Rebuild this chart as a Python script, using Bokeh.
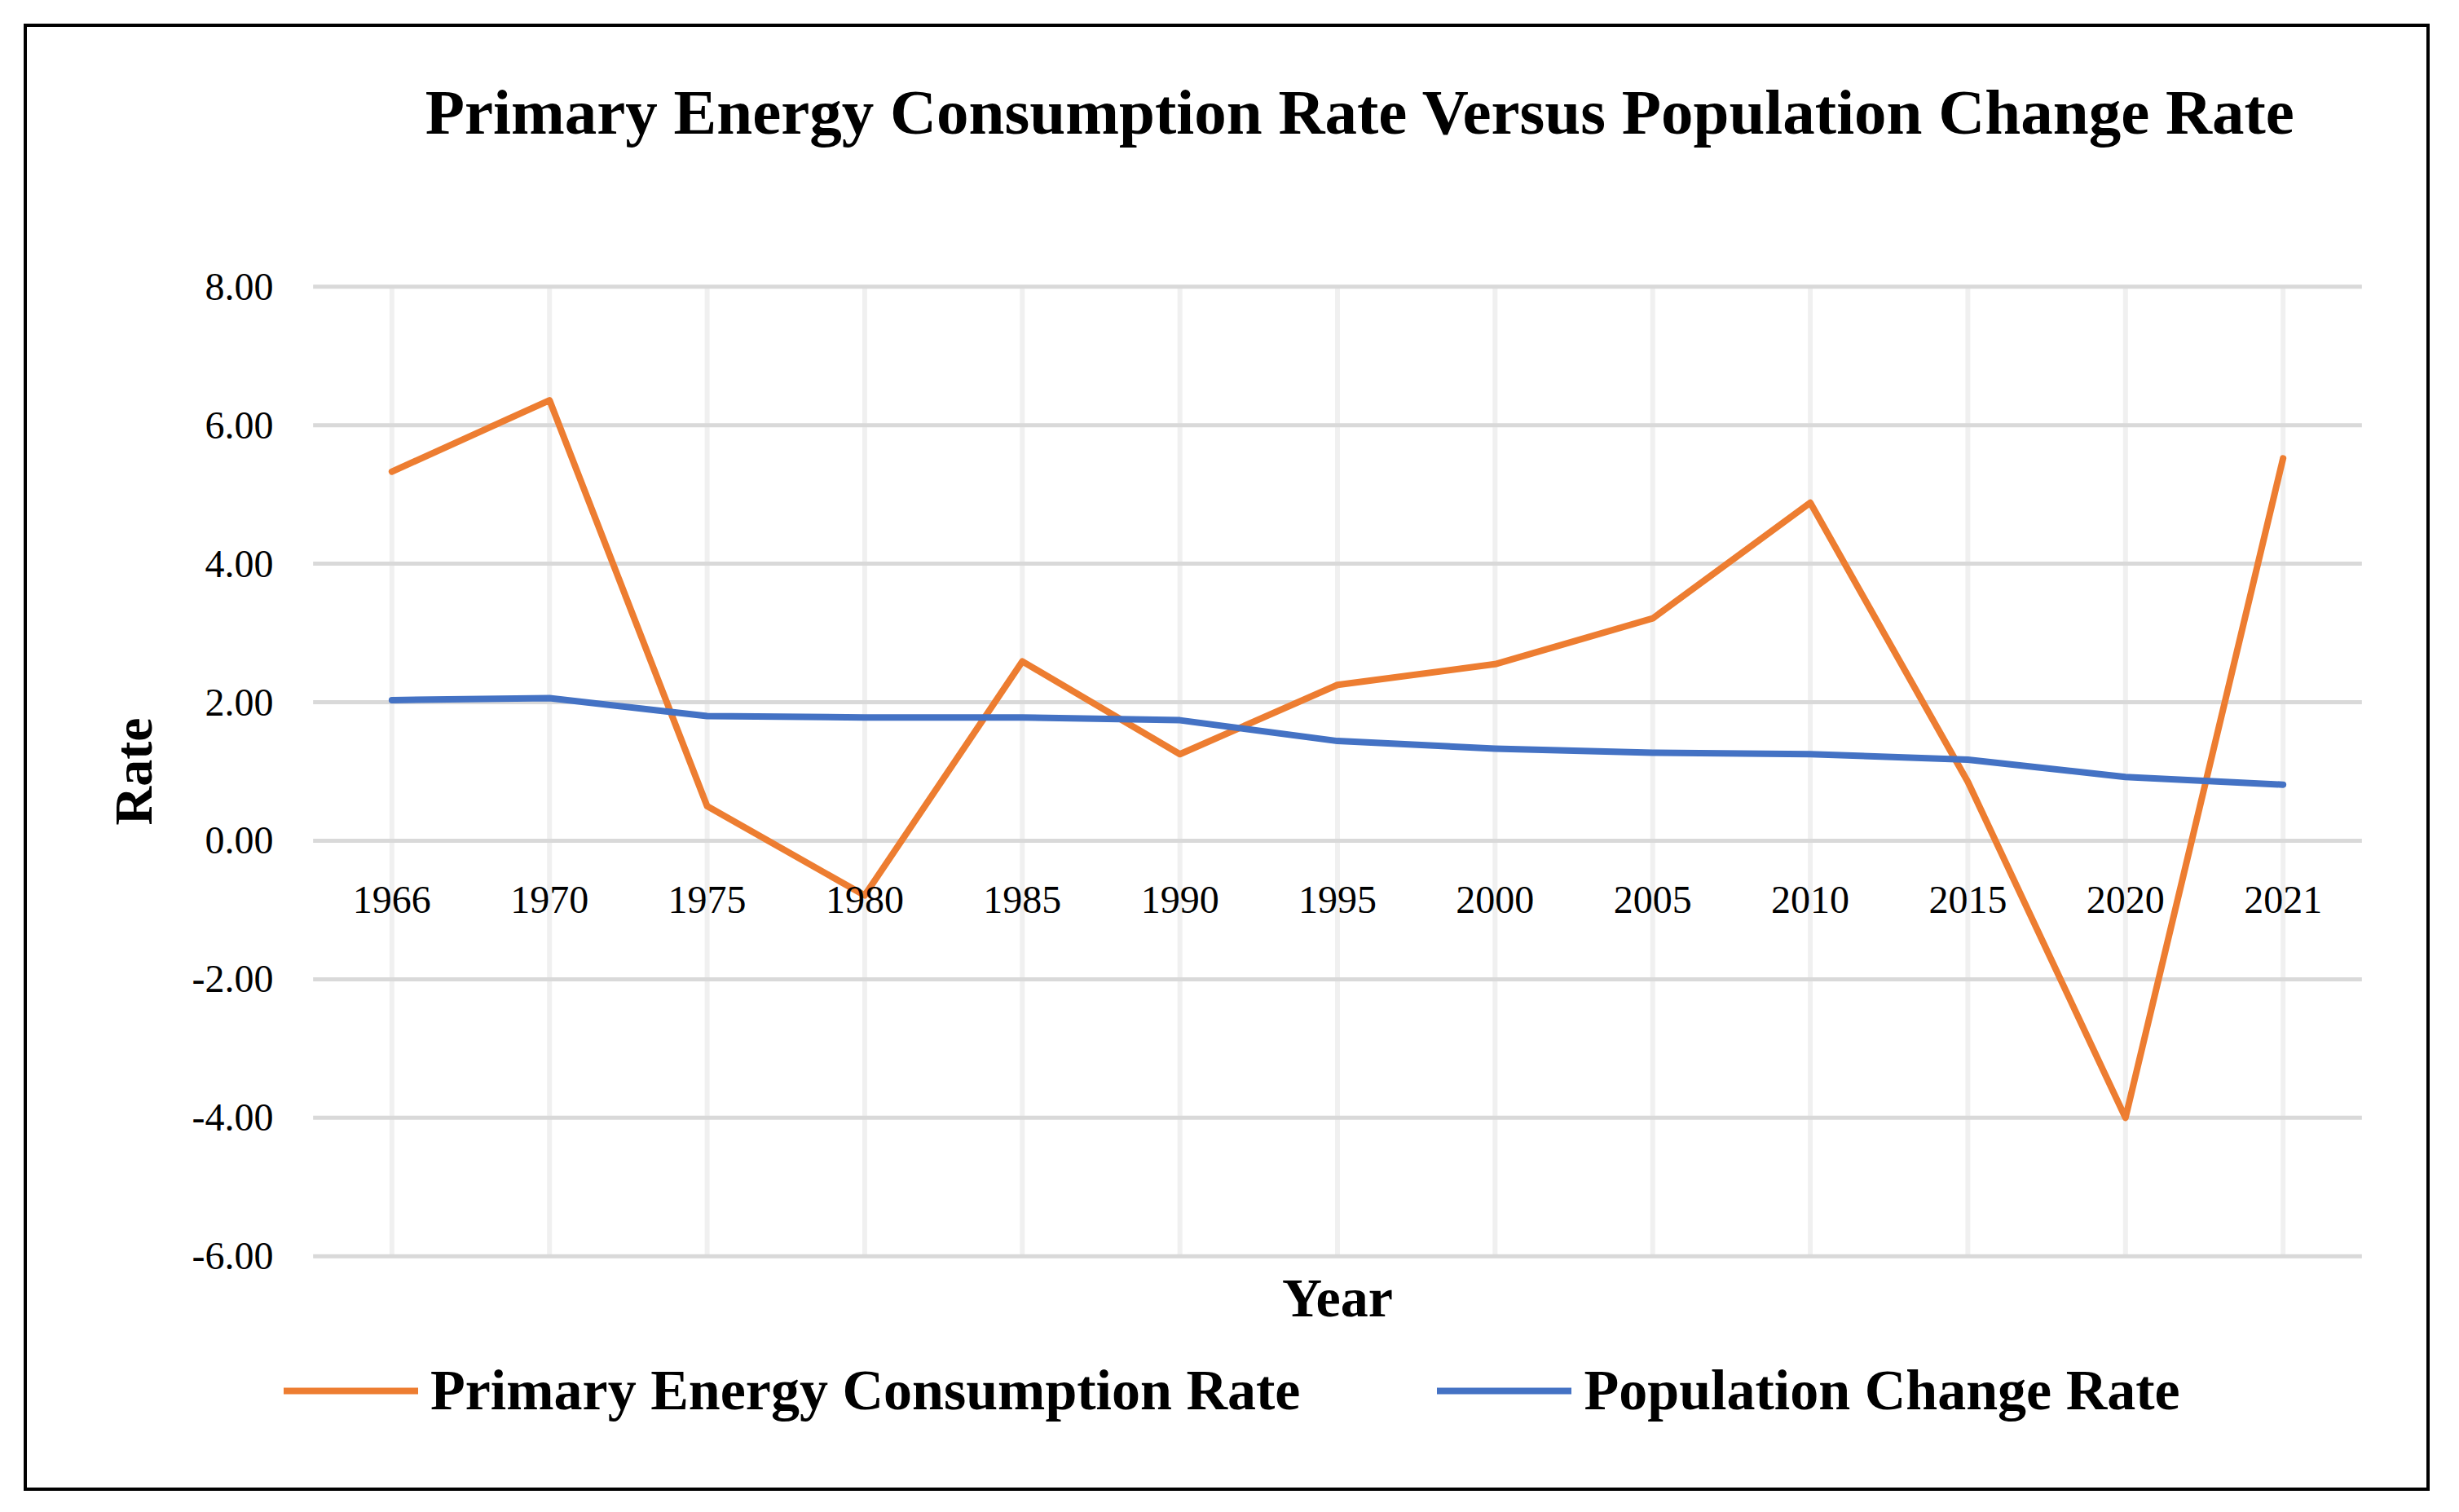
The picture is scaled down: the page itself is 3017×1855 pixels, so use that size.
from bokeh.plotting import figure
from bokeh.models import (FactorRange, Range1d, FixedTicker, NumeralTickFormatter,
                          Legend, LegendItem)
from bokeh.core.properties import value
from bokeh.embed import file_html
from bokeh.resources import INLINE

years = ["1966", "1970", "1975", "1980", "1985", "1990", "1995",
         "2000", "2005", "2010", "2015", "2020", "2021"]
energy_rate = [5.33, 6.36, 0.50, -0.79, 2.59, 1.25, 2.25,
               2.55, 3.21, 4.88, 0.85, -4.00, 5.52]
population_rate = [2.03, 2.06, 1.80, 1.78, 1.78, 1.74, 1.44,
                   1.33, 1.27, 1.25, 1.17, 0.92, 0.81]
y_ticks = [-6, -4, -2, 0, 2, 4, 6, 8]
y_min, y_max = -6, 8
chart_title = "Primary Energy Consumption Rate Versus Population Change Rate"
x_title = "Year"
y_title = "Rate"
series_names = ["Primary Energy Consumption Rate", "Population Change Rate"]

FONT = "Liberation Serif"
ORANGE = "#ED7D31"
BLUE = "#4472C4"

# The frame is enlarged (symmetrically in y, so the y-axis title stays centred
# on the -6..8 span) so that title, "Year" caption and legend sit inside it;
# grid lines are drawn only over the data span.
p = figure(
    width=2944, height=1792,
    x_range=FactorRange(*years, range_padding=0.2, range_padding_units="absolute"),
    y_range=Range1d(-8.968, 10.968),
    output_backend="svg", toolbar_location=None,
    min_border_left=312, min_border_right=49,
    min_border_top=66, min_border_bottom=40,
    background_fill_color="white", border_fill_color="white",
)
p.margin = (29, 0, 0, 29)
p.styles = {"border": "4px solid black", "box-sizing": "content-box"}
p.outline_line_color = None
p.xgrid.visible = False
p.ygrid.visible = False

# y axis
p.yaxis.bounds = (y_min, y_max)
p.yaxis.ticker = FixedTicker(ticks=y_ticks)
p.yaxis.formatter = NumeralTickFormatter(format="0.00")
p.yaxis.major_label_text_font = FONT
p.yaxis.major_label_text_font_size = "48px"
p.yaxis.major_label_text_color = "black"
p.yaxis.major_label_standoff = 4
p.yaxis.axis_line_color = None
p.yaxis.major_tick_line_color = None
p.yaxis.minor_tick_line_color = None
p.yaxis.axis_label = y_title
p.yaxis.axis_label_text_font = FONT
p.yaxis.axis_label_text_font_size = "66px"
p.yaxis.axis_label_text_font_style = "bold"
p.yaxis.axis_label_text_color = "black"
p.yaxis.axis_label_standoff = 33

# x axis crossing at y = 0
p.xaxis.fixed_location = 0
p.xaxis.axis_line_color = None
p.xaxis.major_tick_line_color = None
p.xaxis.minor_tick_line_color = None
p.xaxis.major_label_text_font = FONT
p.xaxis.major_label_text_font_size = "48px"
p.xaxis.major_label_text_color = "black"
p.xaxis.major_label_standoff = 51

# grid lines over the data span only
n = len(years)
p.segment(x0=years, y0=[y_min] * n, x1=years, y1=[y_max] * n,
          line_color="#F0F0F0", line_width=6)
p.segment(x0=[0] * len(y_ticks), y0=y_ticks, x1=[n] * len(y_ticks), y1=y_ticks,
          line_color="#D9D9D9", line_width=5)

# lines
r1 = p.line(years, energy_rate, line_color=ORANGE, line_width=8,
            line_join="round", line_cap="round")
r2 = p.line(years, population_rate, line_color=BLUE, line_width=8,
            line_join="round", line_cap="round")

mid = years[n // 2]

# chart title
p.text(x=[mid], y=[10.52], text=[chart_title], x_offset=28,
       text_align="center", text_baseline="alphabetic",
       text_font=value(FONT), text_font_size="79px",
       text_font_style="bold", text_color="black")

# "Year" caption
p.text(x=[mid], y=[-6.60], text=[x_title],
       text_align="center", text_baseline="alphabetic",
       text_font=value(FONT), text_font_size="68px",
       text_font_style="bold", text_color="black")

legend = Legend(items=[LegendItem(label=series_names[0], renderers=[r1]),
                       LegendItem(label=series_names[1], renderers=[r2])],
                orientation="horizontal", location=(3, 47),
                label_text_font=FONT, label_text_font_size="70px",
                label_text_font_style="bold", label_text_color="black",
                glyph_width=165, glyph_height=30,
                label_standoff=15, spacing=168, padding=0, margin=0,
                border_line_color=None, background_fill_alpha=0)
p.add_layout(legend)

open("out.html", "w").write(file_html(p, INLINE))
